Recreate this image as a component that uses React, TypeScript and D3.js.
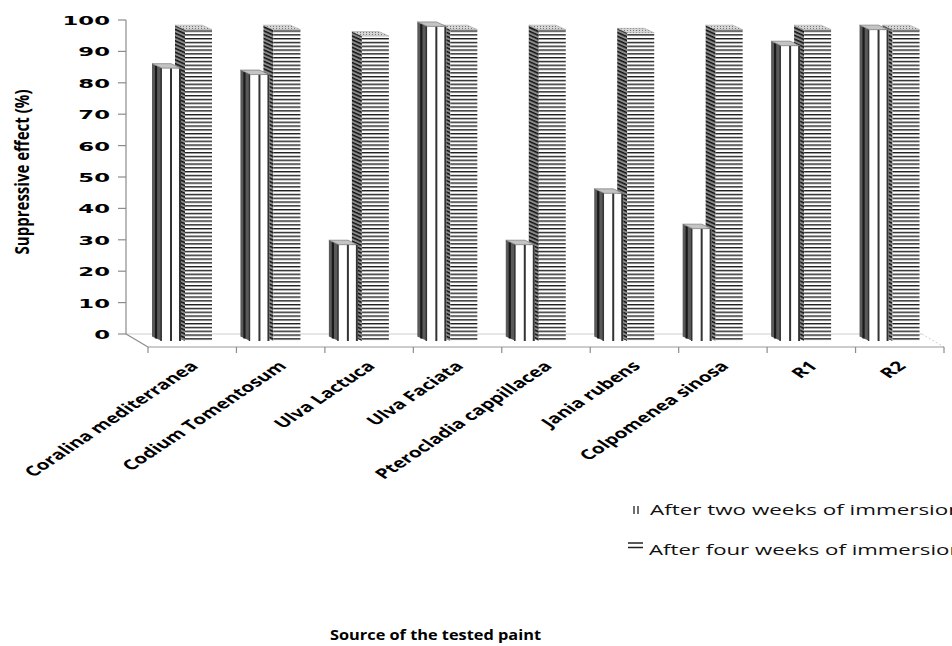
import React from "react";
import * as d3 from "d3";

const categories = [
  "Coralina mediterranea",
  "Codium Tomentosum",
  "Ulva Lactuca",
  "Ulva Faciata",
  "Pterocladia cappillacea",
  "Jania rubens",
  "Colpomenea sinosa",
  "R1",
  "R2",
];
const twoWeeks = [85, 83, 30, 98, 30, 46, 35, 92, 97];
const fourWeeks = [97, 97, 95, 97, 97, 96, 97, 97, 97];
const yTicks = [0, 10, 20, 30, 40, 50, 60, 70, 80, 90, 100];
const seriesNames = ["After two weeks of immersion", "After four weeks of immersion"];

const W = 952;
const H = 646;

// floor / wall geometry
const BACK_LEFT = 126;
const FRONT_LEFT = 148;
const FRONT_RIGHT = 944;
const BACK_RIGHT = 922;
const BACK_FLOOR_Y = 334;
const FRONT_FLOOR_Y = 347;
const BAR_BASE_Y = 341;
const DEPTH_DX = 10;
const DEPTH_DY = 4.5;

export default function App() {
  const x = d3.scaleBand<string>().domain(categories).range([FRONT_LEFT, FRONT_RIGHT]).paddingInner(0).paddingOuter(0);
  const yWall = d3.scaleLinear().domain([0, 100]).range([BACK_FLOOR_Y, 20]);
  const yBar = d3.scaleLinear().domain([0, 100]).range([BAR_BASE_Y, 20]);
  const bw = x.bandwidth();

  const s1Off = 14, s1W = 19, s2Off = 37, s2W = 27;

  const sidePath = (x0: number, yTop: number) =>
    `M${x0},${BAR_BASE_Y}L${x0},${yTop}L${x0 - DEPTH_DX},${yTop - DEPTH_DY}L${x0 - DEPTH_DX},${BAR_BASE_Y - DEPTH_DY}Z`;
  const topPath = (x0: number, w: number, yTop: number) =>
    `M${x0},${yTop}L${x0 + w},${yTop}L${x0 + w - DEPTH_DX},${yTop - DEPTH_DY}L${x0 - DEPTH_DX},${yTop - DEPTH_DY}Z`;

  const catTicks = d3.range(categories.length + 1).map((i) => FRONT_LEFT + i * bw);

  return (
    <svg
      width={W}
      height={H}
      style={{ position: "absolute", left: 0, top: 0, background: "#fff" }}
      xmlns="http://www.w3.org/2000/svg"
    >
      <defs>
        <pattern id="hstripes" patternUnits="userSpaceOnUse" width="8" height="3.8">
          <rect width="8" height="3.8" fill="#fff" />
          <rect y="0" width="8" height="1.4" fill="#1e1e1e" />
        </pattern>
        <pattern
          id="diagstripes"
          patternUnits="userSpaceOnUse"
          width="8"
          height="3.8"
          patternTransform="skewY(24)"
        >
          <rect width="8" height="3.8" fill="#8a8a8a" />
          <rect y="0" width="8" height="1.6" fill="#111" />
        </pattern>
        <pattern id="dots" patternUnits="userSpaceOnUse" width="3" height="2">
          <rect width="3" height="2" fill="#d6d6d6" />
          <rect width="1" height="1" fill="#777" />
        </pattern>
      </defs>

      {/* floor */}
      <g fill="none">
        <line x1={BACK_LEFT} y1={BACK_FLOOR_Y} x2={BACK_RIGHT} y2={BACK_FLOOR_Y} stroke="#d0d0d0" strokeWidth={1.2} />
        <line x1={BACK_RIGHT} y1={BACK_FLOOR_Y} x2={FRONT_RIGHT} y2={FRONT_FLOOR_Y} stroke="#d0d0d0" strokeWidth={1} strokeDasharray="2,2" />
        <line x1={BACK_LEFT} y1={BACK_FLOOR_Y} x2={FRONT_LEFT} y2={FRONT_FLOOR_Y} stroke="#8c8c8c" strokeWidth={1.2} />
        <line x1={FRONT_LEFT} y1={FRONT_FLOOR_Y} x2={FRONT_RIGHT} y2={FRONT_FLOOR_Y} stroke="#9a9a9a" strokeWidth={1.2} />
        {catTicks.map((t, i) => (
          <line key={i} x1={t} y1={FRONT_FLOOR_Y} x2={t} y2={FRONT_FLOOR_Y + 6} stroke="#8c8c8c" strokeWidth={1.2} />
        ))}
      </g>

      {/* value axis */}
      <g>
        <line x1={BACK_LEFT} y1={yWall(0)} x2={BACK_LEFT} y2={yWall(100)} stroke="#8c8c8c" strokeWidth={1.2} />
        {yTicks.map((t) => (
          <g key={t}>
            <line x1={BACK_LEFT - 8} y1={yWall(t)} x2={BACK_LEFT} y2={yWall(t)} stroke="#8c8c8c" strokeWidth={1.2} />
            <text
              transform={`translate(110,${yWall(t) + 5}) scale(1.75,1)`}
              textAnchor="end"
              fontFamily="DejaVu Sans"
              fontWeight="bold"
              fontSize={13}
              fill="#000"
            >
              {t}
            </text>
          </g>
        ))}
      </g>

      {/* columns */}
      {categories.map((c, i) => {
        const b = x(c)!;
        const x1 = b + s1Off;
        const x2 = b + s2Off;
        const t1 = yBar(twoWeeks[i]);
        const t2 = yBar(fourWeeks[i]);
        return (
          <g key={c}>
            {/* four weeks */}
            <path d={sidePath(x2, t2)} fill="url(#diagstripes)" />
            <rect x={x2} y={t2} width={s2W} height={BAR_BASE_Y - t2} fill="url(#hstripes)" />
            <path d={topPath(x2, s2W, t2)} fill="url(#dots)" stroke="#999" strokeWidth={0.5} />
            {/* two weeks */}
            <path d={sidePath(x1, t1)} fill="#5a5a5a" />
            <line x1={x1 - 6} y1={t1 - 2.5} x2={x1 - 6} y2={BAR_BASE_Y - 2.5} stroke="#1a1a1a" strokeWidth={2.2} />
            <line x1={x1 - 1} y1={t1} x2={x1 - 1} y2={BAR_BASE_Y} stroke="#333" strokeWidth={1.4} />
            <rect x={x1} y={t1} width={s1W} height={BAR_BASE_Y - t1} fill="#fff" />
            <line x1={x1 + 9} y1={t1} x2={x1 + 9} y2={BAR_BASE_Y} stroke="#333" strokeWidth={2} />
            <line x1={x1 + s1W - 1} y1={t1} x2={x1 + s1W - 1} y2={BAR_BASE_Y} stroke="#333" strokeWidth={2} />
            <path d={topPath(x1, s1W, t1)} fill="#c4c4c4" stroke="#666" strokeWidth={0.6} />
          </g>
        );
      })}

      {/* category labels */}
      {categories.map((c) => {
        const cx = x(c)! + bw / 2;
        return (
          <text
            key={c}
            transform={`translate(${cx + 7},${367}) scale(1.5,1) rotate(-45)`}
            textAnchor="end"
            fontFamily="Open Sans"
            fontWeight="bold"
            fontSize={13.8}
            fill="#000"
          >
            {c}
          </text>
        );
      })}

      {/* y title */}
      <text
        transform="translate(21,172) scale(1.45,1) rotate(-90)"
        textAnchor="middle"
        dominantBaseline="central"
        fontFamily="Open Sans"
        fontWeight="bold"
        fontSize={13.5}
        textLength={165}
        lengthAdjust="spacingAndGlyphs"
        fill="#000"
      >
        Suppressive effect (%)
      </text>

      {/* legend */}
      <g>
        <line x1={634} y1={506} x2={634} y2={514} stroke="#222" strokeWidth={1.3} />
        <line x1={638} y1={506} x2={638} y2={514} stroke="#222" strokeWidth={1.3} />
        <text x={650} y={515} fontFamily="Open Sans" fontSize={15} textLength={312} lengthAdjust="spacingAndGlyphs" fill="#111">
          {seriesNames[0]}
        </text>
        <line x1={628} y1={543} x2={643} y2={543} stroke="#222" strokeWidth={1.5} />
        <line x1={628} y1={547.5} x2={643} y2={547.5} stroke="#222" strokeWidth={1.5} />
        <text x={649} y={555} fontFamily="Open Sans" fontSize={15} textLength={314} lengthAdjust="spacingAndGlyphs" fill="#111">
          {seriesNames[1]}
        </text>
      </g>

      {/* x title */}
      <text
        x={435.5}
        y={640}
        textAnchor="middle"
        fontFamily="Open Sans"
        fontWeight="bold"
        fontSize={15}
        textLength={211}
        lengthAdjust="spacingAndGlyphs"
        fill="#000"
      >
        Source of the tested paint
      </text>
    </svg>
  );
}
